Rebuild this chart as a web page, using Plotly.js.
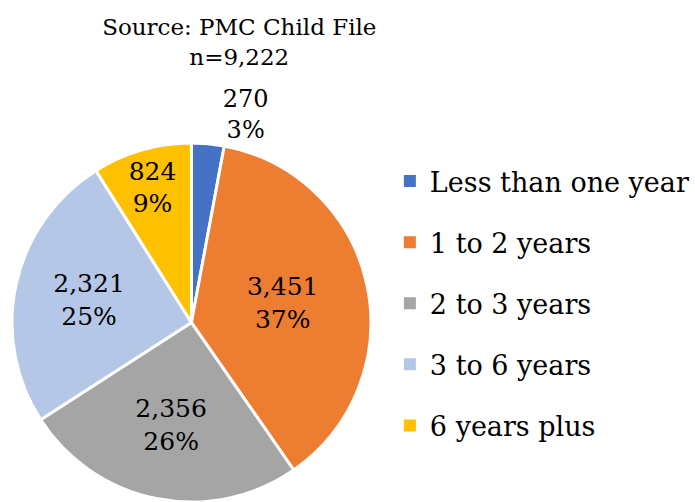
<!DOCTYPE html>
<html>
<head>
<meta charset="utf-8">
<script src="https://cdn.plot.ly/plotly-3.0.1.min.js"></script>
<style>html,body{margin:0;padding:0;background:#fff}#chart{width:695px;height:502px}</style>
</head>
<body>
<div id="chart"></div>
<script>
const categories = ["Less than one year", "1 to 2 years", "2 to 3 years", "3 to 6 years", "6 years plus"];
const counts = [270, 3451, 2356, 2321, 824];
const colors = ["#4472C4", "#ED7D31", "#A5A5A5", "#B4C7E7", "#FFC000"];
const titleLines = ["Source: PMC Child File", "n=9,222"];

const FONT = "DejaVu Serif, Georgia, serif";

const pie = {
  type: "pie",
  labels: categories,
  values: counts,
  sort: false,
  direction: "clockwise",
  rotation: 0,
  marker: {colors: colors, line: {color: "#ffffff", width: 3}},
  texttemplate: "%{value:,}<br>%{percent:.0%}",
  textposition: ["outside", "inside", "inside", "inside", "inside"],
  insidetextorientation: "horizontal",
  textfont: {family: FONT, size: 25, color: "#000000"},
  insidetextfont: {family: FONT, size: 25, color: "#000000"},
  outsidetextfont: {family: FONT, size: 24, color: "#000000"},
  hoverinfo: "label+value+percent",
  showlegend: false,
  domain: {x: [12/695, 372/695], y: [0, 0.715]}
};

const legendTraces = categories.map((c, i) => ({
  type: "scatter",
  mode: "markers",
  x: [null], y: [null],
  name: c,
  legendgroup: "g" + i,
  marker: {symbol: "square", size: 12, color: colors[i]},
  showlegend: true,
  hoverinfo: "skip"
}));

const layout = {
  width: 695, height: 502,
  margin: {l: 0, r: 0, t: 0, b: 0},
  paper_bgcolor: "#ffffff",
  plot_bgcolor: "rgba(0,0,0,0)",
  title: {
    text: titleLines.join("<br>"),
    font: {family: FONT, size: 23, color: "#000000"},
    x: 240/695, xanchor: "center", xref: "paper",
    y: 0.931, yanchor: "top", yref: "container"
  },
  xaxis: {visible: false, domain: [0.99, 1]},
  yaxis: {visible: false, domain: [0.99, 1]},
  showlegend: true,
  legend: {
    x: 391/695, xanchor: "left",
    y: 1 - 157/502, yanchor: "top",
    font: {family: FONT, size: 27, color: "#000000"},
    tracegroupgap: 23,
    bgcolor: "rgba(0,0,0,0)"
  }
};

Plotly.newPlot("chart", [pie].concat(legendTraces), layout, {staticPlot: true, displayModeBar: false});
</script>
</body>
</html>
